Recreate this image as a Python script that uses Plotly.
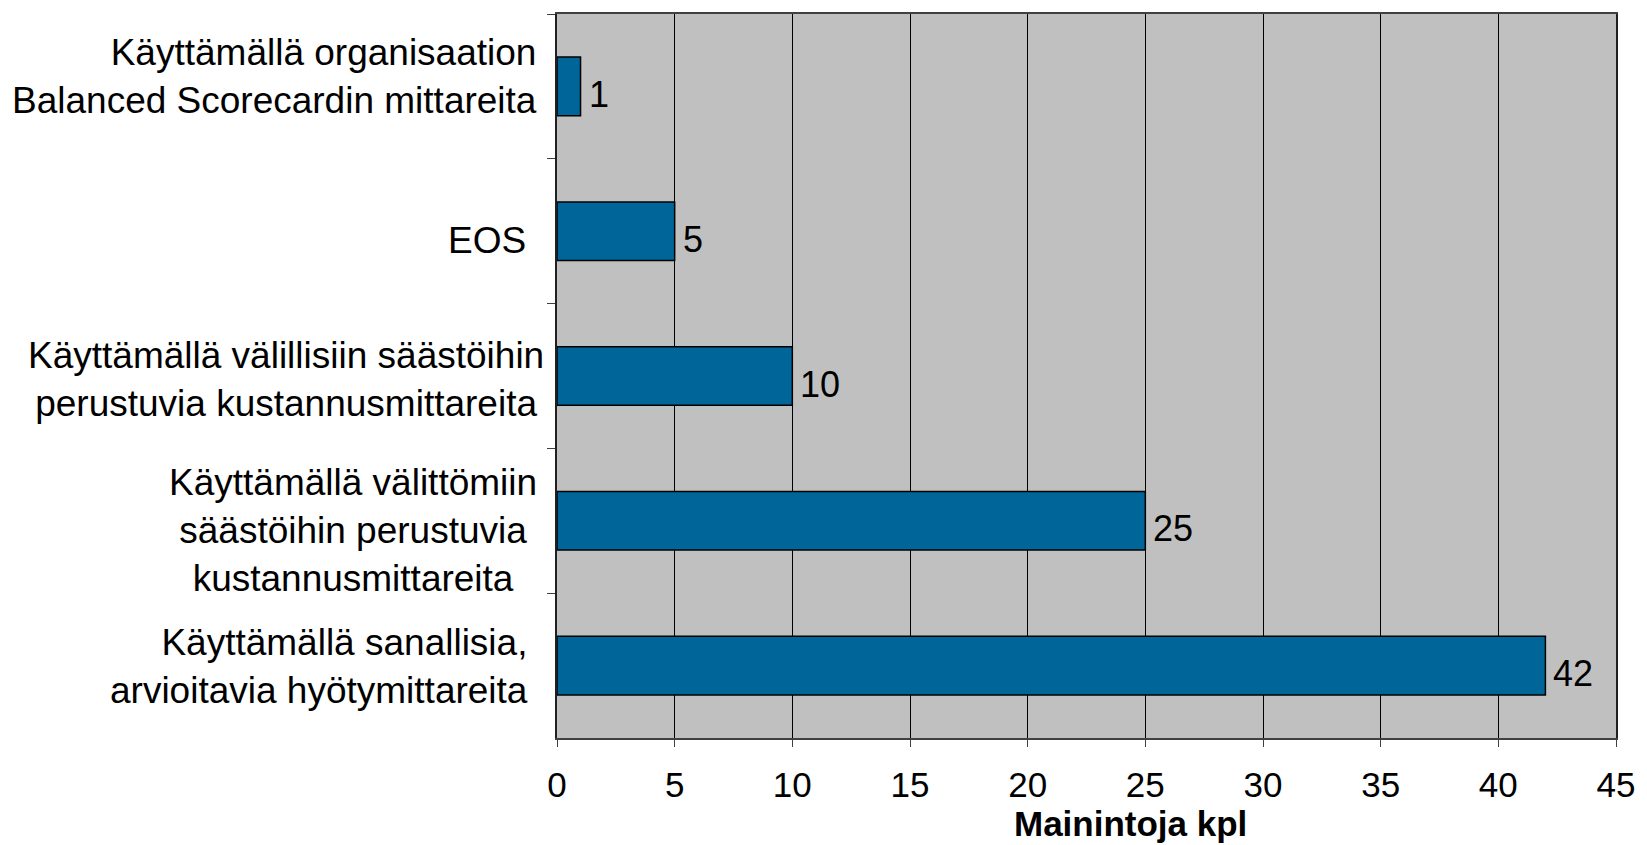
import plotly.graph_objects as go

# ---- data (top-to-bottom order as in the chart) ----
categories = [
    "Käyttämällä organisaation<br>Balanced Scorecardin mittareita",
    "EOS",
    "Käyttämällä välillisiin säästöihin<br>perustuvia kustannusmittareita",
    "Käyttämällä välittömiin<br>säästöihin perustuvia<br>kustannusmittareita",
    "Käyttämällä sanallisia,<br>arvioitavia hyötymittareita",
]
values = [1, 5, 10, 25, 42]
x_tick_values = [0, 5, 10, 15, 20, 25, 30, 35, 40, 45]
x_title = "Mainintoja kpl"

# ---- styling / layout helpers ----
FONT = "Liberation Sans, Arial, sans-serif"
BAR_COLOR = "#006699"
BG = "#C0C0C0"
PLOT_LEFT = 557
label_style = [  # (right edge px, align, vertical shift px)
    (539, "right", 10),
    (528, "right", -9),
    (546, "center", -3),
    (539, "center", -10),
    (530, "right", -1),
]

fig = go.Figure()
fig.add_trace(go.Bar(
    x=values,
    y=categories,
    orientation="h",
    width=0.405,
    marker=dict(color=BAR_COLOR, line=dict(color="black", width=1.5)),
    hoverinfo="skip",
))

annotations = []
# value labels
for cat, v in zip(categories, values):
    annotations.append(dict(
        x=v, y=cat, xref="x", yref="y", text=str(v), showarrow=False,
        xanchor="left", yanchor="middle", xshift=6, yshift=-8,
        font=dict(family=FONT, size=36, color="black"),
    ))
# category labels
for cat, (right, align, ysh) in zip(categories, label_style):
    annotations.append(dict(
        x=0, y=cat, xref="paper", yref="y", text=cat, showarrow=False,
        xanchor="right", yanchor="middle", align=align,
        xshift=right - PLOT_LEFT, yshift=ysh,
        font=dict(family=FONT, size=37, color="black"),
    ))
# axis title
annotations.append(dict(
    x=0.5414, y=0, xref="paper", yref="paper", text="<b>" + x_title + "</b>",
    showarrow=False, xanchor="center", yanchor="middle", yshift=-85,
    font=dict(family=FONT, size=35, color="black"),
))

fig.update_layout(
    width=1647, height=845,
    margin=dict(l=PLOT_LEFT, r=28, t=14, b=107),
    paper_bgcolor="white",
    plot_bgcolor=BG,
    showlegend=False,
    annotations=annotations,
    xaxis=dict(
        range=[0, 45],
        tickvals=x_tick_values,
        ticktext=[str(t) for t in x_tick_values],
        showgrid=True, gridcolor="black", gridwidth=1,
        zeroline=False,
        showline=True, linecolor="#404040", linewidth=1.5, mirror=True,
        ticks="outside", ticklen=7, tickcolor="#404040", tickwidth=1,
        ticklabelstandoff=8,
        tickfont=dict(family=FONT, size=35, color="black"),
        fixedrange=True,
    ),
    yaxis=dict(
        type="category",
        categoryorder="array", categoryarray=categories,
        autorange="reversed",
        showticklabels=False,
        showgrid=False, zeroline=False,
        showline=True, linecolor="#202020", linewidth=1.5, mirror=True,
        ticks="outside", tickson="boundaries", ticklen=8,
        tickcolor="#404040", tickwidth=1,
        fixedrange=True,
    ),
)

fig.write_html(
    "out.html",
    config={"displayModeBar": False},
    post_script="document.body.style.margin='0px';document.body.style.overflow='hidden';",
)
